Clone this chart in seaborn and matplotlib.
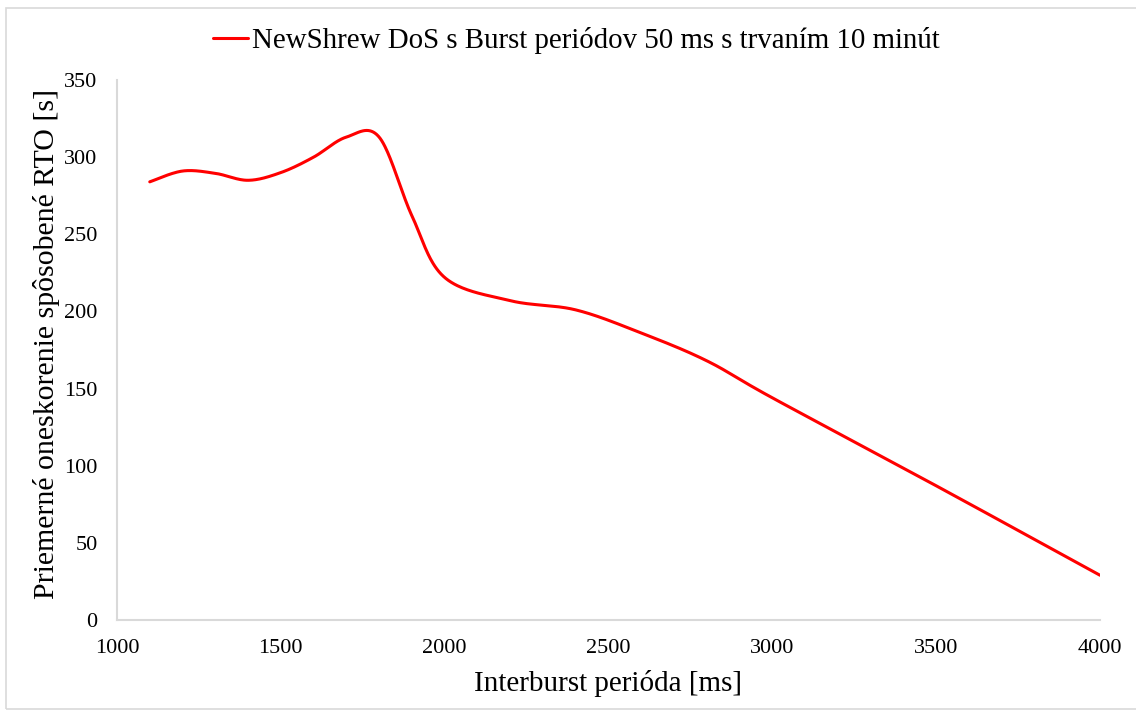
import numpy as np
import pandas as pd
import matplotlib
matplotlib.use("Agg")
import matplotlib.pyplot as plt
from matplotlib.patches import Rectangle
import seaborn as sns

# ---- data ----
period_ms = [1100, 1200, 1300, 1400, 1500, 1600, 1700, 1800, 1900, 2000,
             2200, 2400, 2600, 2800, 3000, 3500, 4000]
rto_delay_s = [284, 291, 289.5, 285, 290, 300, 313, 313, 262, 222,
               207, 201, 186, 168, 144, 87, 29]
series_name = "NewShrew DoS s Burst periódov 50 ms s trvaním 10 minút"
x_label = "Interburst perióda [ms]"
y_label = "Priemerné oneskorenie spôsobené RTO [s]"
x_ticks = [1000, 1500, 2000, 2500, 3000, 3500, 4000]
y_ticks = [0, 50, 100, 150, 200, 250, 300, 350]


def excel_smooth(xs, ys, n=40):
    """Excel-style smoothed line (Catmull-Rom -> cubic Bezier)."""
    xs = np.asarray(xs, float)
    ys = np.asarray(ys, float)
    px = np.concatenate([[xs[0]], xs, [xs[-1]]])
    py = np.concatenate([[ys[0]], ys, [ys[-1]]])
    outx, outy = [], []
    t = np.linspace(0, 1, n)
    for i in range(1, len(px) - 2):
        p0 = np.array([px[i], py[i]])
        p3 = np.array([px[i + 1], py[i + 1]])
        c1 = p0 + (np.array([px[i + 1], py[i + 1]]) - np.array([px[i - 1], py[i - 1]])) / 6
        c2 = p3 - (np.array([px[i + 2], py[i + 2]]) - np.array([px[i], py[i]])) / 6
        b = ((1 - t)[:, None] ** 3 * p0 + 3 * ((1 - t) ** 2 * t)[:, None] * c1
             + 3 * ((1 - t) * t ** 2)[:, None] * c2 + (t ** 3)[:, None] * p3)
        if i > 1:
            b = b[1:]
        outx.extend(b[:, 0])
        outy.extend(b[:, 1])
    return np.array(outx), np.array(outy)


sx, sy = excel_smooth(period_ms, rto_delay_s)
df = pd.DataFrame({"x": sx, "y": sy, "series": series_name})

sns.set_theme(style="white")
plt.rcParams["font.family"] = ["Liberation Serif", "DejaVu Serif"]

fig = plt.figure(figsize=(11.36, 7.11), dpi=100)
ax = fig.add_axes([117 / 1136, 1 - 620 / 711, (1100 - 117) / 1136, (620 - 80) / 711])

sns.lineplot(data=df, x="x", y="y", hue="series", palette=["#ff0000"],
             sort=False, estimator=None, linewidth=2.2, ax=ax, legend=True)

ax.set_xlim(1000, 4000)
ax.set_ylim(0, 350)
ax.set_xticks(x_ticks)
ax.set_yticks(y_ticks)
ax.tick_params(axis="both", length=0, labelsize=16, colors="#000000")
ax.tick_params(axis="x", pad=14)
ax.tick_params(axis="y", pad=14)
for s in ["top", "right"]:
    ax.spines[s].set_visible(False)
for s in ["left", "bottom"]:
    ax.spines[s].set_color("#d9d9d9")
    ax.spines[s].set_linewidth(1.5)
ax.grid(False)

ax.set_xlabel(x_label, fontsize=21, labelpad=8, color="#000000")
ax.set_ylabel(y_label, fontsize=21.5, labelpad=3, color="#000000")
ax.yaxis.label.set_y(0.5 + 6 / 540)

leg = ax.legend(loc="upper center", bbox_to_anchor=(0.4675, 1.119), frameon=False,
                fontsize=20.8, handlelength=1.2, handletextpad=0.15, borderaxespad=0)
for t in leg.get_texts():
    t.set_color("#000000")

fig.patches.append(Rectangle((6 / 1136, 2 / 711), 1.1, 1 - 10 / 711,
                             transform=fig.transFigure, fill=False,
                             edgecolor="#d9d9d9", linewidth=1.2))

fig.savefig("out.png", dpi=100, facecolor="white")
